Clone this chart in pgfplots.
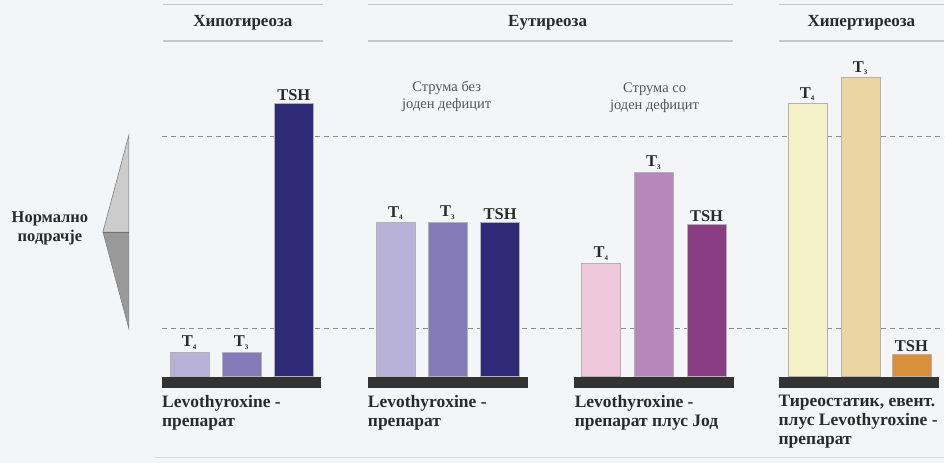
\documentclass[border=0pt]{standalone}
\usepackage{pgfplots}
\pgfplotsset{compat=1.18}
\usepackage{fontspec}
\setmainfont{Liberation Serif}
\definecolor{bg}{HTML}{F4F5F6}
\definecolor{txt}{HTML}{2A2A2A}
\definecolor{aA}{HTML}{B7B1D8}
\definecolor{aB}{HTML}{8479B9}
\definecolor{aC}{HTML}{2F2B78}
\definecolor{cA}{HTML}{EFC8DC}
\definecolor{cB}{HTML}{B786BA}
\definecolor{cC}{HTML}{893D82}
\definecolor{dA}{HTML}{F5F1C6}
\definecolor{dB}{HTML}{EAD5A3}
\definecolor{dC}{HTML}{D8903A}
\definecolor{basec}{HTML}{333333}
\newcommand{\Tsub}[1]{T\textsubscript{\fontsize{7}{7}\selectfont #1}}
\pgfplotsset{
  mybar/.style 2 args={ybar, bar width=39, bar shift=0pt, fill=#1, draw=black!30, line width=0.5pt,
    nodes near coords={#2},
    every node near coord/.append style={font=\bfseries\fontsize{16.5}{16.5}\selectfont, text=txt, inner sep=2pt}},
}
\tikzset{bl/.style={anchor=north west, align=left, font=\bfseries\fontsize{17.5}{19}\selectfont, text=txt, inner sep=0pt},
  hl/.style={black!22, line width=1.3pt},
  hd/.style={font=\bfseries\fontsize{17}{17}\selectfont, text=txt}}
\begin{document}
\begin{tikzpicture}
\begin{axis}[scale only axis, width=945pt, height=463pt,
  xmin=0, xmax=945, ymin=-86, ymax=377, hide axis, clip=false]
% background
\fill[bg] (axis cs:0,-86) rectangle (axis cs:945,377);
% header lines
\draw[hl] (axis cs:163,372.5) -- (axis cs:323,372.5);
\draw[hl] (axis cs:163,336) -- (axis cs:323,336);
\draw[hl] (axis cs:368,372.5) -- (axis cs:733,372.5);
\draw[hl] (axis cs:368,336) -- (axis cs:733,336);
\draw[hl] (axis cs:780,372.5) -- (axis cs:945,372.5);
\draw[hl] (axis cs:780,336) -- (axis cs:945,336);
\node[hd] at (axis cs:243,354) {Хипотиреоза};
\node[hd] at (axis cs:548,354) {Еутиреоза};
\node[hd] at (axis cs:862,354) {Хипертиреоза};
% subtitles
\node[align=center, font=\fontsize{14.5}{17}\selectfont, text=txt!80] at (axis cs:447,281) {Струма без\\јоден дефицит};
\node[align=center, font=\fontsize{14.5}{17}\selectfont, text=txt!80] at (axis cs:655,279) {Струма со\\јоден дефицит};
% normal range lines
\addplot[black!45, line width=0.8pt, dash pattern=on 5pt off 4pt] coordinates {(162,241) (945,241)};
\addplot[black!45, line width=0.8pt, dash pattern=on 5pt off 4pt] coordinates {(162,48) (945,48)};
% triangle
\fill[black!20] (axis cs:103,145) -- (axis cs:129,242) -- (axis cs:129,145) -- cycle;
\fill[black!40] (axis cs:103,145) -- (axis cs:129,48) -- (axis cs:129,145) -- cycle;
\draw[black!50, line width=0.6pt] (axis cs:129,242) -- (axis cs:103,145) -- (axis cs:129,48) -- cycle;
\draw[black!55, line width=0.6pt] (axis cs:103,145) -- (axis cs:129,145);
\node[align=center, font=\bfseries\fontsize{16.5}{19}\selectfont, text=txt] at (axis cs:50,148) {Нормално\\подрачје};
% bars group 1
\addplot[mybar={aA}{\Tsub{4}}] coordinates {(189.5,25)};
\addplot[mybar={aB}{\Tsub{3}}] coordinates {(241.5,25)};
\addplot[mybar={aC}{TSH}] coordinates {(294,274)};
% group 2
\addplot[mybar={aA}{\Tsub{4}}] coordinates {(396,155)};
\addplot[mybar={aB}{\Tsub{3}}] coordinates {(448,155)};
\addplot[mybar={aC}{TSH}] coordinates {(500.5,155)};
% group 3
\addplot[mybar={cA}{\Tsub{4}}] coordinates {(601.5,114)};
\addplot[mybar={cB}{\Tsub{3}}] coordinates {(654,205)};
\addplot[mybar={cC}{TSH}] coordinates {(707,153)};
% group 4
\addplot[mybar={dA}{\Tsub{4}}] coordinates {(808,274)};
\addplot[mybar={dB}{\Tsub{3}}] coordinates {(861,300)};
\addplot[mybar={dC}{TSH}] coordinates {(912,23)};
% base bars
\fill[basec] (axis cs:162,0) rectangle (axis cs:321,-11.5);
\fill[basec] (axis cs:368,0) rectangle (axis cs:528,-11.5);
\fill[basec] (axis cs:574,0) rectangle (axis cs:734,-11.5);
\fill[basec] (axis cs:780,0) rectangle (axis cs:940,-11.5);
% bottom labels
\node[bl] at (axis cs:162,-18) {Levothyroxine -\\препарат};
\node[bl] at (axis cs:368,-18) {Levothyroxine -\\препарат};
\node[bl] at (axis cs:575,-18) {Levothyroxine -\\препарат плус Јод};
\node[bl] at (axis cs:779,-18) {Тиреостатик, евент.\\плус Levothyroxine -\\препарат};
\draw[black!15, line width=1.2pt] (axis cs:155,-81) -- (axis cs:945,-81);
\end{axis}
\end{tikzpicture}
\end{document}
